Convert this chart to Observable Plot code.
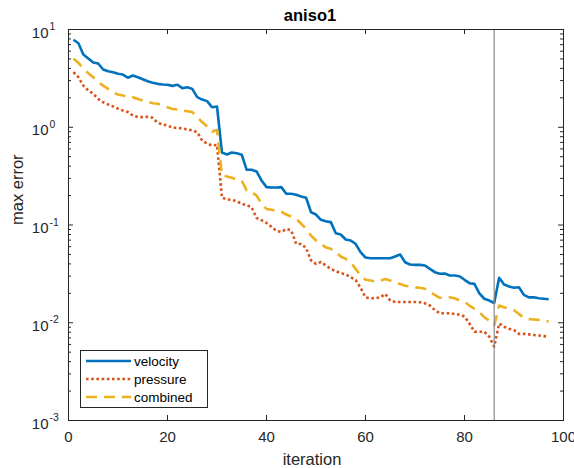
<!DOCTYPE html>
<html>
<head>
<meta charset="utf-8">
<script src="https://cdn.jsdelivr.net/npm/d3@7"></script>
<script src="https://cdn.jsdelivr.net/npm/@observablehq/plot@0.6"></script>
<style>
  html, body { margin: 0; padding: 0; background: #fff; }
  #chart svg { display: block; }
</style>
</head>
<body>
<div id="chart"></div>
<script>
// ---------- data ----------
const velocity = [
  7.85, 7.24, 5.55, 5.05, 4.60, 4.49, 3.90, 3.74, 3.66, 3.52,
  3.46, 3.21, 3.38, 3.25, 3.10, 2.96, 2.85, 2.78, 2.74, 2.72,
  2.65, 2.72, 2.51, 2.57, 2.47, 2.03, 1.92, 1.85, 1.60, 1.63,
  0.552, 0.526, 0.552, 0.543, 0.523, 0.367, 0.367, 0.353, 0.285, 0.244,
  0.242, 0.242, 0.244, 0.209, 0.209, 0.204, 0.196, 0.190, 0.135, 0.128,
  0.113, 0.109, 0.107, 0.0825, 0.080, 0.0711, 0.0694, 0.0642, 0.0527, 0.0465,
  0.0457, 0.0457, 0.0457, 0.0457, 0.0457, 0.0476, 0.0499, 0.0416, 0.0394, 0.0391,
  0.0391, 0.0385, 0.0356, 0.0329, 0.0317, 0.0319, 0.0304, 0.0304, 0.0299, 0.0275,
  0.0254, 0.0250, 0.0200, 0.0176, 0.0169, 0.0159, 0.0288, 0.0246, 0.0235, 0.0228,
  0.0231, 0.0193, 0.0182, 0.0182, 0.0178, 0.0176, 0.0174
];
const pressure = [
  3.66, 3.25, 2.67, 2.38, 2.20, 1.95, 1.80, 1.71, 1.63, 1.55,
  1.48, 1.43, 1.32, 1.27, 1.27, 1.28, 1.25, 1.11, 1.07, 1.04,
  0.99, 0.99, 0.97, 0.95, 0.93, 0.89, 0.73, 0.68, 0.65, 0.66,
  0.19, 0.183, 0.181, 0.175, 0.165, 0.159, 0.152, 0.118, 0.112, 0.105,
  0.096, 0.087, 0.085, 0.091, 0.088, 0.064, 0.064, 0.058, 0.0434, 0.040,
  0.0418, 0.0385, 0.0356, 0.0337, 0.0322, 0.0313, 0.0293, 0.0274, 0.0228, 0.0182,
  0.0178, 0.0178, 0.0182, 0.0197, 0.0169, 0.0163, 0.0163, 0.0163, 0.0163, 0.0163,
  0.0162, 0.0158, 0.0150, 0.0135, 0.0125, 0.0125, 0.0125, 0.0123, 0.0121, 0.0116,
  0.0098, 0.0081, 0.0081, 0.0081, 0.0072, 0.0057, 0.0098, 0.0091, 0.0087, 0.0084,
  0.0077, 0.0077, 0.0076, 0.0075, 0.0074, 0.0073, 0.0072
];
const combined = [
  5.01, 4.56, 3.96, 3.57, 3.25, 2.89, 2.67, 2.47, 2.28, 2.16,
  2.11, 2.03, 2.03, 1.95, 1.88, 1.83, 1.76, 1.74, 1.67, 1.60,
  1.54, 1.52, 1.48, 1.46, 1.43, 1.27, 1.13, 1.02, 0.90, 0.94,
  0.321, 0.313, 0.304, 0.292, 0.285, 0.225, 0.217, 0.200, 0.165, 0.146,
  0.143, 0.140, 0.137, 0.128, 0.122, 0.116, 0.103, 0.091, 0.078, 0.0694,
  0.064, 0.059, 0.057, 0.0527, 0.0476, 0.045, 0.0416, 0.0356, 0.0305, 0.0275,
  0.027, 0.0265, 0.027, 0.028, 0.027, 0.0254, 0.025, 0.0239, 0.0235, 0.023,
  0.0228, 0.0223, 0.0206, 0.0193, 0.018, 0.018, 0.0182, 0.0178, 0.0169, 0.0163,
  0.015, 0.0139, 0.0128, 0.0114, 0.0105, 0.0094, 0.015, 0.0144, 0.0139, 0.0134,
  0.0123, 0.0112, 0.0109, 0.0108, 0.0107, 0.0105, 0.0103
];
const iterations = d3.range(1, velocity.length + 1);
const markerIteration = 86;

const seriesNames = ["velocity", "pressure", "combined"];
const xTicks = [0, 20, 40, 60, 80, 100];
const yTicks = [10, 1, 0.1, 0.01, 0.001];
const yTickExponents = ["1", "0", "-1", "-2", "-3"];
const minorMultipliers = [2, 3, 4, 5, 6, 7, 8, 9];
const yMinorTicks = yTicks.slice(1).flatMap(d => minorMultipliers.map(m => d * m));

// ---------- layout / style ----------
const W = 574, H = 468;
const mL = 68, mR = 11, mT = 29, mB = 48;
const plotW = W - mL - mR, plotH = H - mT - mB;
const axisColor = "#262626";
const colors = { velocity: "#0072BD", pressure: "#D95319", combined: "#EDB120" };
const lw = 2.6;
const dashes = { velocity: null, pressure: "2.6,2.6", combined: "11,7" };
const font = "'Liberation Sans', Arial, Helvetica, sans-serif";

const rows = s => iterations.map((it, i) => ({ it, v: s[i] }));
const seriesData = { velocity: rows(velocity), pressure: rows(pressure), combined: rows(combined) };

const majorLen = 5, minorLen = 3;

const chart = Plot.plot({
  width: W, height: H,
  marginLeft: mL, marginRight: mR, marginTop: mT, marginBottom: mB,
  style: { fontFamily: font, background: "#fff", color: axisColor, overflow: "visible" },
  x: { domain: [0, 100], axis: null },
  y: { type: "log", domain: [0.001, 10], axis: null },
  marks: [
    // x inward ticks (bottom and top)
    Plot.ruleX(xTicks, { x: d => d, stroke: axisColor, strokeWidth: 1, insetTop: plotH - majorLen }),
    Plot.ruleX(xTicks, { x: d => d, stroke: axisColor, strokeWidth: 1, insetBottom: plotH - majorLen }),
    // y inward ticks (left and right), major + minor
    Plot.ruleY(yTicks, { y: d => d, stroke: axisColor, strokeWidth: 1, insetRight: plotW - majorLen }),
    Plot.ruleY(yTicks, { y: d => d, stroke: axisColor, strokeWidth: 1, insetLeft: plotW - majorLen }),
    Plot.ruleY(yMinorTicks, { y: d => d, stroke: axisColor, strokeWidth: 1, insetRight: plotW - minorLen }),
    Plot.ruleY(yMinorTicks, { y: d => d, stroke: axisColor, strokeWidth: 1, insetLeft: plotW - minorLen }),
    // x tick labels
    Plot.axisX(xTicks, { anchor: "bottom", tickSize: 0, tickPadding: 11, fontSize: 15, label: null, fill: axisColor }),
    // y tick labels "10" + superscript exponent
    Plot.text(yTicks, { y: d => d, frameAnchor: "left", text: () => "10", textAnchor: "end",
      lineAnchor: "bottom", dx: -20, dy: 8, fontSize: 15, fill: axisColor }),
    Plot.text(yTicks, { y: d => d, frameAnchor: "left", text: (d, i) => yTickExponents[i], textAnchor: "start",
      lineAnchor: "bottom", dx: -19, dy: 0.5, fontSize: 10.5, fill: axisColor }),
    // series lines
    ...seriesNames.map(name => Plot.line(seriesData[name], {
      x: "it", y: "v", stroke: colors[name], strokeWidth: lw,
      strokeDasharray: dashes[name], strokeLinejoin: "round", strokeLinecap: "butt"
    })),
    // vertical marker
    Plot.ruleX([markerIteration], { x: d => d, stroke: "#8a8a8a", strokeWidth: 1.2 }),
    // frame
    Plot.frame({ stroke: axisColor, strokeWidth: 1 }),
    // title and axis labels
    Plot.text(["aniso1"], { text: d => d, frameAnchor: "top", lineAnchor: "bottom", dy: -9, dx: -6,
      fontSize: 16.5, fontWeight: "bold", fill: "#000" }),
    Plot.text(["iteration"], { text: d => d, frameAnchor: "bottom", lineAnchor: "bottom", dy: 44, dx: -4,
      fontSize: 16.5, fill: axisColor }),
    Plot.text(["max error"], { text: d => d, frameAnchor: "left", lineAnchor: "bottom", rotate: -90, dx: -46,
      fontSize: 16.5, fill: axisColor })
  ]
});

// ---------- legend (inside the axes, lower left) ----------
const svg = d3.select(chart);
const lg = svg.append("g").attr("font-family", font).attr("font-size", 13.5).attr("text-anchor", "start");
lg.append("rect")
  .attr("x", 80.5).attr("y", 350.5).attr("width", 127).attr("height", 57)
  .attr("fill", "#fff").attr("stroke", axisColor).attr("stroke-width", 1);
seriesNames.forEach((name, i) => {
  const y = 361 + i * 18;
  lg.append("line")
    .attr("x1", 86).attr("x2", 131).attr("y1", y).attr("y2", y)
    .attr("stroke", colors[name]).attr("stroke-width", lw)
    .attr("stroke-dasharray", dashes[name]);
  lg.append("text")
    .attr("x", 134).attr("y", y + 4.5).attr("fill", "#000").text(name);
});

document.getElementById("chart").appendChild(chart);
</script>
</body>
</html>
